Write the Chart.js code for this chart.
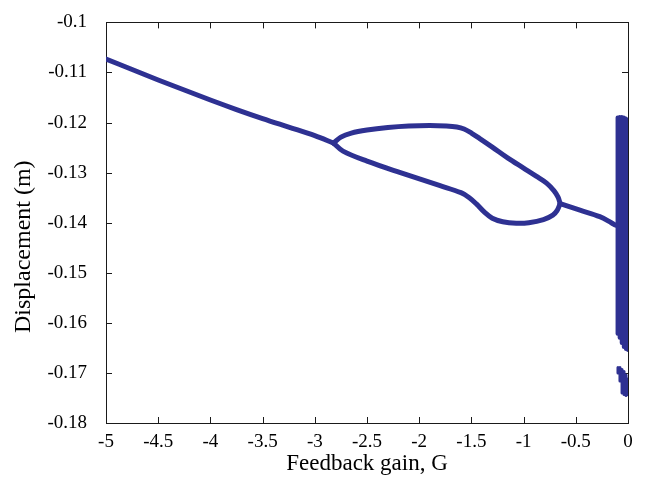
<!DOCTYPE html>
<html>
<head>
<meta charset="utf-8">
<script src="https://cdn.jsdelivr.net/npm/chart.js@4"></script>
<style>
  html, body { margin: 0; padding: 0; background: #ffffff; }
  canvas { display: block; }
</style>
</head>
<body>
<canvas id="c" width="646" height="487"></canvas>
<script>
// ---- data ----
const xTicks = [-5, -4.5, -4, -3.5, -3, -2.5, -2, -1.5, -1, -0.5, 0];
const xTickLabels = ['-5', '-4.5', '-4', '-3.5', '-3', '-2.5', '-2', '-1.5', '-1', '-0.5', '0'];
const yTicks = [-0.18, -0.17, -0.16, -0.15, -0.14, -0.13, -0.12, -0.11, -0.1];
const yTickLabels = ['-0.18', '-0.17', '-0.16', '-0.15', '-0.14', '-0.13', '-0.12', '-0.11', '-0.1'];

// single branch, left part
const mainG = [-5, -4.75, -4.5, -4.25, -4, -3.75, -3.5, -3.25, -3, -2.82];
const mainY = [-0.1073, -0.1094, -0.1115, -0.1135, -0.1155, -0.1174, -0.1192, -0.1209, -0.1226, -0.1241];

// period-doubled loop, upper branch
const upperG = [-2.82, -2.75, -2.65, -2.5, -2.3, -2.1, -1.9, -1.74, -1.64, -1.57, -1.5, -1.42, -1.3, -1.15, -1.0, -0.88, -0.78, -0.71, -0.67, -0.65];
const upperY = [-0.1241, -0.1229, -0.1221, -0.1215, -0.1210, -0.1207, -0.1206, -0.1207, -0.1209, -0.1213, -0.1221, -0.1232, -0.1249, -0.1271, -0.1291, -0.1307, -0.1321, -0.1336, -0.1349, -0.1362];

// period-doubled loop, lower branch
const lowerG = [-2.82, -2.73, -2.5, -2.18, -1.8, -1.6, -1.52, -1.45, -1.38, -1.3, -1.2, -1.07, -0.95, -0.81, -0.72, -0.68, -0.65];
const lowerY = [-0.1241, -0.1257, -0.1277, -0.1300, -0.1326, -0.1340, -0.1350, -0.1363, -0.1378, -0.1391, -0.1398, -0.1401, -0.1400, -0.1394, -0.1385, -0.1376, -0.1362];

// single branch, right part
const tailG = [-0.65, -0.46, -0.27, -0.16, -0.12];
const tailY = [-0.1362, -0.1375, -0.1388, -0.1400, -0.1405];

// chaotic band near G = 0 (extent per column)
const bandG = [-0.10, -0.08, -0.06, -0.04, -0.02, 0.0];
const bandTop = [-0.1190, -0.1189, -0.1189, -0.1190, -0.1192, -0.1195];
const bandBottom = [-0.1622, -0.1630, -0.1640, -0.1648, -0.1652, -0.1654];

// detached cluster below the band
const clusterG = [-0.096, -0.077, -0.057, -0.038, -0.019, 0.0];
const clusterTop = [-0.1689, -0.1689, -0.1693, -0.1697, -0.1704, -0.1712];
const clusterBottom = [-0.1700, -0.1716, -0.1740, -0.1743, -0.1745, -0.1743];

// ---- build datasets ----
const BLUE = 'rgb(46,49,146)';
const pts = (gs, ys) => gs.map((g, i) => ({ x: g, y: ys[i] }));
const segs = (gs, tops, bots) => {
  const out = [];
  gs.forEach((g, i) => {
    out.push({ x: g, y: tops[i] }, { x: g, y: bots[i] }, { x: g, y: null });
  });
  return out;
};
const curve = (data) => ({
  data, borderColor: BLUE, borderWidth: 5, pointRadius: 0, tension: 0.35,
  borderCapStyle: 'round', borderJoinStyle: 'round', fill: false
});
const column = (data, w) => ({
  data, borderColor: BLUE, borderWidth: w, pointRadius: 0, tension: 0,
  spanGaps: false, borderCapStyle: 'round', fill: false
});

const frame = {
  id: 'frame',
  beforeDatasetsDraw(chart) {
    const { ctx, chartArea: a, scales } = chart;
    ctx.save();
    ctx.strokeStyle = '#1a1a1a';
    ctx.lineWidth = 1;
    ctx.strokeRect(Math.round(a.left) + 0.5, Math.round(a.top) + 0.5,
                   Math.round(a.right - a.left), Math.round(a.bottom - a.top));
    const L = 6;
    ctx.beginPath();
    xTicks.forEach(v => {
      const px = Math.round(scales.x.getPixelForValue(v)) + 0.5;
      ctx.moveTo(px, a.bottom); ctx.lineTo(px, a.bottom - L);
      ctx.moveTo(px, a.top); ctx.lineTo(px, a.top + L);
    });
    yTicks.forEach(v => {
      const py = Math.round(scales.y.getPixelForValue(v)) + 0.5;
      ctx.moveTo(a.left, py); ctx.lineTo(a.left + L, py);
      ctx.moveTo(a.right, py); ctx.lineTo(a.right - L, py);
    });
    ctx.stroke();
    ctx.restore();
  }
};

new Chart(document.getElementById('c'), {
  type: 'line',
  data: {
    datasets: [
      curve(pts(mainG, mainY)),
      curve(pts(upperG, upperY)),
      curve(pts(lowerG, lowerY)),
      curve(pts(tailG, tailY)),
      column(segs(bandG, bandTop, bandBottom), 4),
      column(segs(clusterG, clusterTop, clusterBottom), 3)
    ]
  },
  options: {
    responsive: false,
    animation: false,
    layout: { padding: { top: 13, right: 18, left: 0, bottom: 0 } },
    plugins: { legend: { display: false }, tooltip: { enabled: false } },
    scales: {
      x: {
        type: 'linear', min: -5, max: 0,
        afterBuildTicks: s => { s.ticks = xTicks.map(v => ({ value: v })); },
        afterFit: s => { s.height = 64; },
        grid: { display: false }, border: { display: false },
        ticks: {
          color: '#000', padding: 0, maxRotation: 0, autoSkip: false,
          font: { family: 'Liberation Serif', size: 19 },
          callback: (v, i) => xTickLabels[i]
        },
        title: {
          display: true, text: 'Feedback gain, G', color: '#000',
          font: { family: 'Liberation Serif', size: 23 }, padding: { top: 0, bottom: 9 }
        }
      },
      y: {
        type: 'linear', min: -0.18, max: -0.1,
        afterBuildTicks: s => { s.ticks = yTicks.map(v => ({ value: v })); },
        afterFit: s => { s.width = 106; },
        grid: { display: false }, border: { display: false },
        ticks: {
          color: '#000', padding: 11, autoSkip: false,
          font: { family: 'Liberation Serif', size: 19 },
          callback: (v, i) => yTickLabels[i]
        },
        title: {
          display: true, text: 'Displacement (m)        ', color: '#000',
          font: { family: 'Liberation Serif', size: 24 }, padding: { top: 9, bottom: 0 }
        }
      }
    }
  },
  plugins: [frame]
});
</script>
</body>
</html>
